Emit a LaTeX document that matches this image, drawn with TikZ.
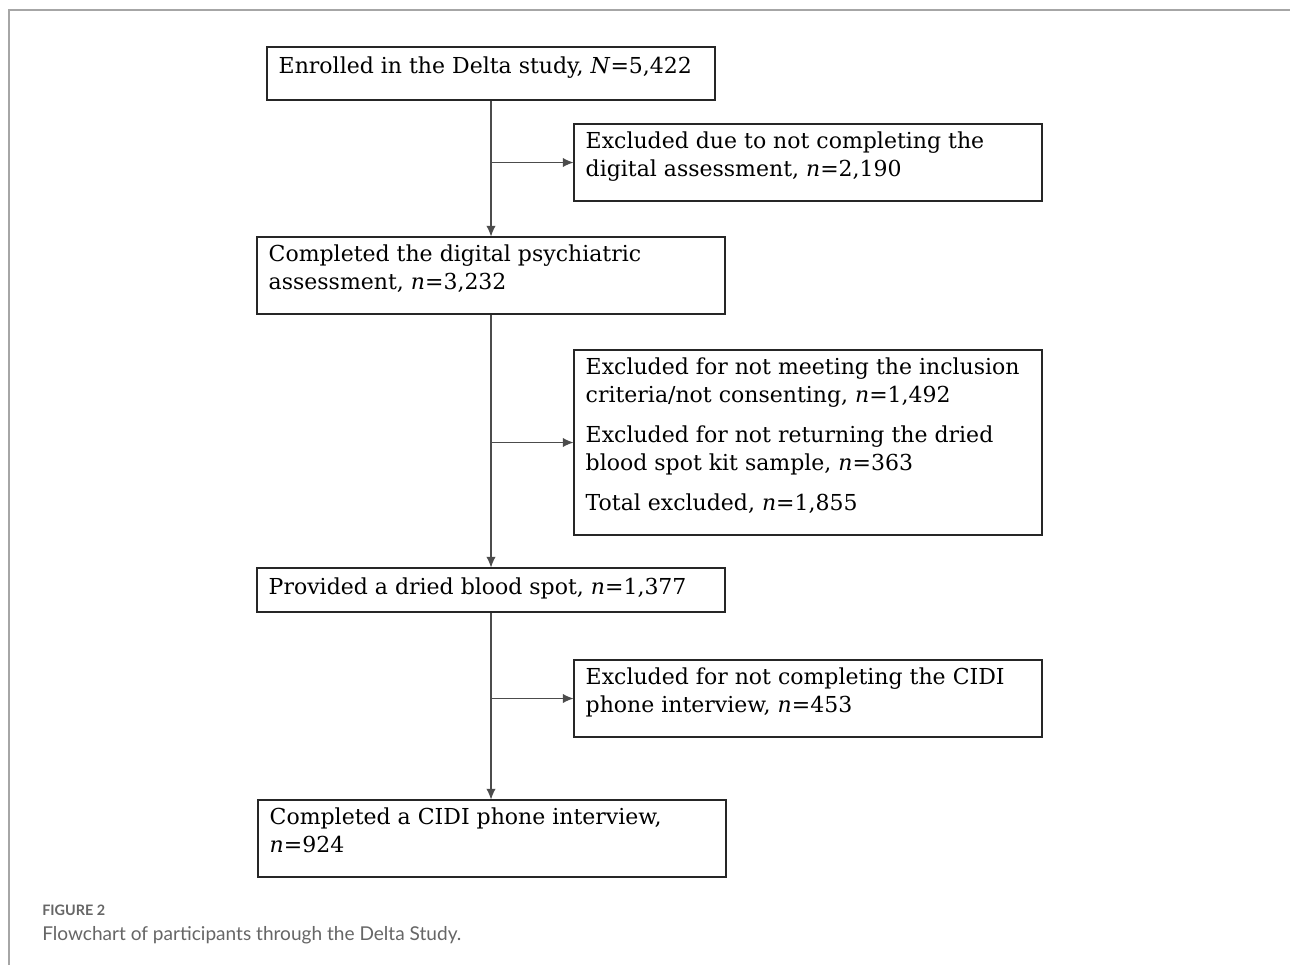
\documentclass[tikz,border=0pt]{standalone}
\usepackage{fontspec}
\setmainfont{DejaVu Serif}
\newfontfamily\capfont{Lato}
\usetikzlibrary{arrows.meta,fit}
\begin{document}
\begin{tikzpicture}[x=0.75pt,y=-0.75pt,
  box/.style={draw=black!85,line width=0.8pt,inner sep=0pt},
  txt/.style={anchor=north west,inner sep=0pt,align=left,font=\fontsize{16.5}{21}\selectfont},
  flow/.style={draw=black!70,line width=0.8pt},
  arr/.style={flow,-{Latex[length=8pt,width=7pt]}}]
\useasboundingbox (0,0) rectangle (1290,965);
\draw[black!35,line width=1pt] (9,965) -- (9,10) -- (1290,10);

\node[box,fit={(267,47) (715,100)}] (enrol) {};
\node[box,fit={(574,124) (1042,201)}] (excl1) {};
\node[box,fit={(257,237) (725,314)}] (digital) {};
\node[box,fit={(574,350) (1042,535)}] (excl2) {};
\node[box,fit={(257,568) (725,612)}] (blood) {};
\node[box,fit={(574,660) (1042,737)}] (excl3) {};
\node[box,fit={(258,800) (726,877)}] (cidi) {};

\node[txt] (enroltxt) at ([shift={(12,10)}]enrol.north west) {Enrolled in the Delta study, \textit{N}=5,422};
\node[txt] (excl1txt) at ([shift={(12,8)}]excl1.north west) {Excluded due to not completing the\\digital assessment, \textit{n}=2,190};
\node[txt] (digitaltxt) at ([shift={(12,8)}]digital.north west) {Completed the digital psychiatric\\assessment, \textit{n}=3,232};
\node[txt] (excl2txt) at ([shift={(12,8)}]excl2.north west) {Excluded for not meeting the inclusion\\criteria/not consenting, \textit{n}=1,492\\[9pt]Excluded for not returning the dried\\blood spot kit sample, \textit{n}=363\\[9pt]Total excluded, \textit{n}=1,855};
\node[txt] (bloodtxt) at ([shift={(12,10)}]blood.north west) {Provided a dried blood spot, \textit{n}=1,377};
\node[txt] (excl3txt) at ([shift={(12,8)}]excl3.north west) {Excluded for not completing the CIDI\\phone interview, \textit{n}=453};
\node[txt] (cidityxt) at ([shift={(12,8)}]cidi.north west) {Completed a CIDI phone interview,\\\textit{n}=924};

\coordinate (j1) at (enrol.south |- excl1.west);
\coordinate (j2) at (digital.south |- excl2.west);
\coordinate (j3) at (blood.south |- excl3.west);
\draw[arr] (enrol.south) -- (digital.north);
\draw[arr] (j1) -- (excl1.west);
\draw[arr] (digital.south) -- (blood.north);
\draw[arr] (j2) -- (excl2.west);
\draw[arr] (blood.south) -- (blood.south |- cidi.north);
\draw[arr] (j3) -- (excl3.west);

\node[anchor=west,inner sep=0pt,text=black!60,font=\capfont\bfseries\fontsize{10.8}{12}\selectfont] (figno) at (42,910) {FIGURE 2};
\node[anchor=west,inner sep=0pt,text=black!60,font=\capfont\fontsize{14.3}{16}\selectfont] (caption) at (42,935) {Flowchart of participants through the Delta Study.};
\end{tikzpicture}
\end{document}
